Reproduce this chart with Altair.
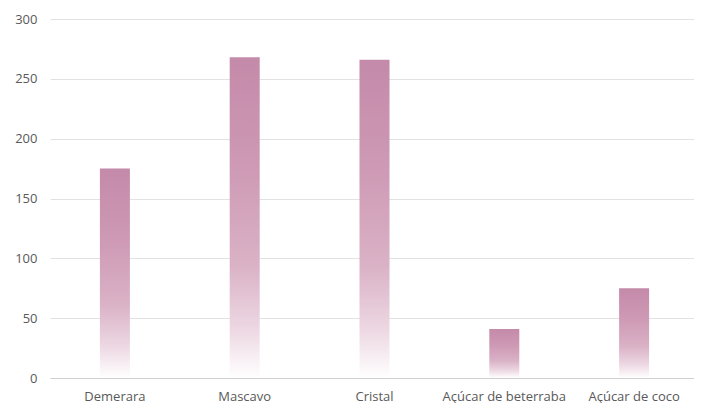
import altair as alt
import pandas as pd

categories = ["Demerara", "Mascavo", "Cristal", "Açúcar de beterraba", "Açúcar de coco"]
values = [175, 268, 266, 41, 75]
y_ticks = [0, 50, 100, 150, 200, 250, 300]

df = pd.DataFrame({"cat": categories, "val": values})

grad = alt.Gradient(
    gradient="linear",
    stops=[
        alt.GradientStop(color="#C48AA9", offset=0),
        alt.GradientStop(color="#CE9AB5", offset=0.35),
        alt.GradientStop(color="#DAB2C6", offset=0.65),
        alt.GradientStop(color="#EDD8E3", offset=0.85),
        alt.GradientStop(color="#FFFFFF", offset=1),
    ],
    x1=0, x2=0, y1=0, y2=1,
)

chart = alt.Chart(df).mark_bar(color=grad, size=30).encode(
    x=alt.X("cat:N", sort=categories, title=None,
            scale=alt.Scale(paddingInner=0, paddingOuter=0, range=[0, 649]),
            axis=alt.Axis(labelAngle=0, ticks=False, domainColor="#D0D0D0",
                          labelColor="#595959", labelFontSize=13, labelPadding=12,
                          labelFont="Open Sans", grid=False)),
    y=alt.Y("val:Q", title=None,
            scale=alt.Scale(domain=[0, 300], nice=False),
            axis=alt.Axis(values=y_ticks, ticks=False, domain=False,
                          gridColor="#E2E2E2", labelColor="#595959",
                          labelFontSize=13, labelPadding=13, labelFont="Open Sans")),
).properties(
    width=644, height=359,
    autosize=alt.AutoSizeParams(type="none"),
    padding={"left": 42, "top": 11, "right": 0, "bottom": 25},
).configure_view(stroke=None)

chart.save("out.html", embed_options={"renderer": "svg", "actions": False})
